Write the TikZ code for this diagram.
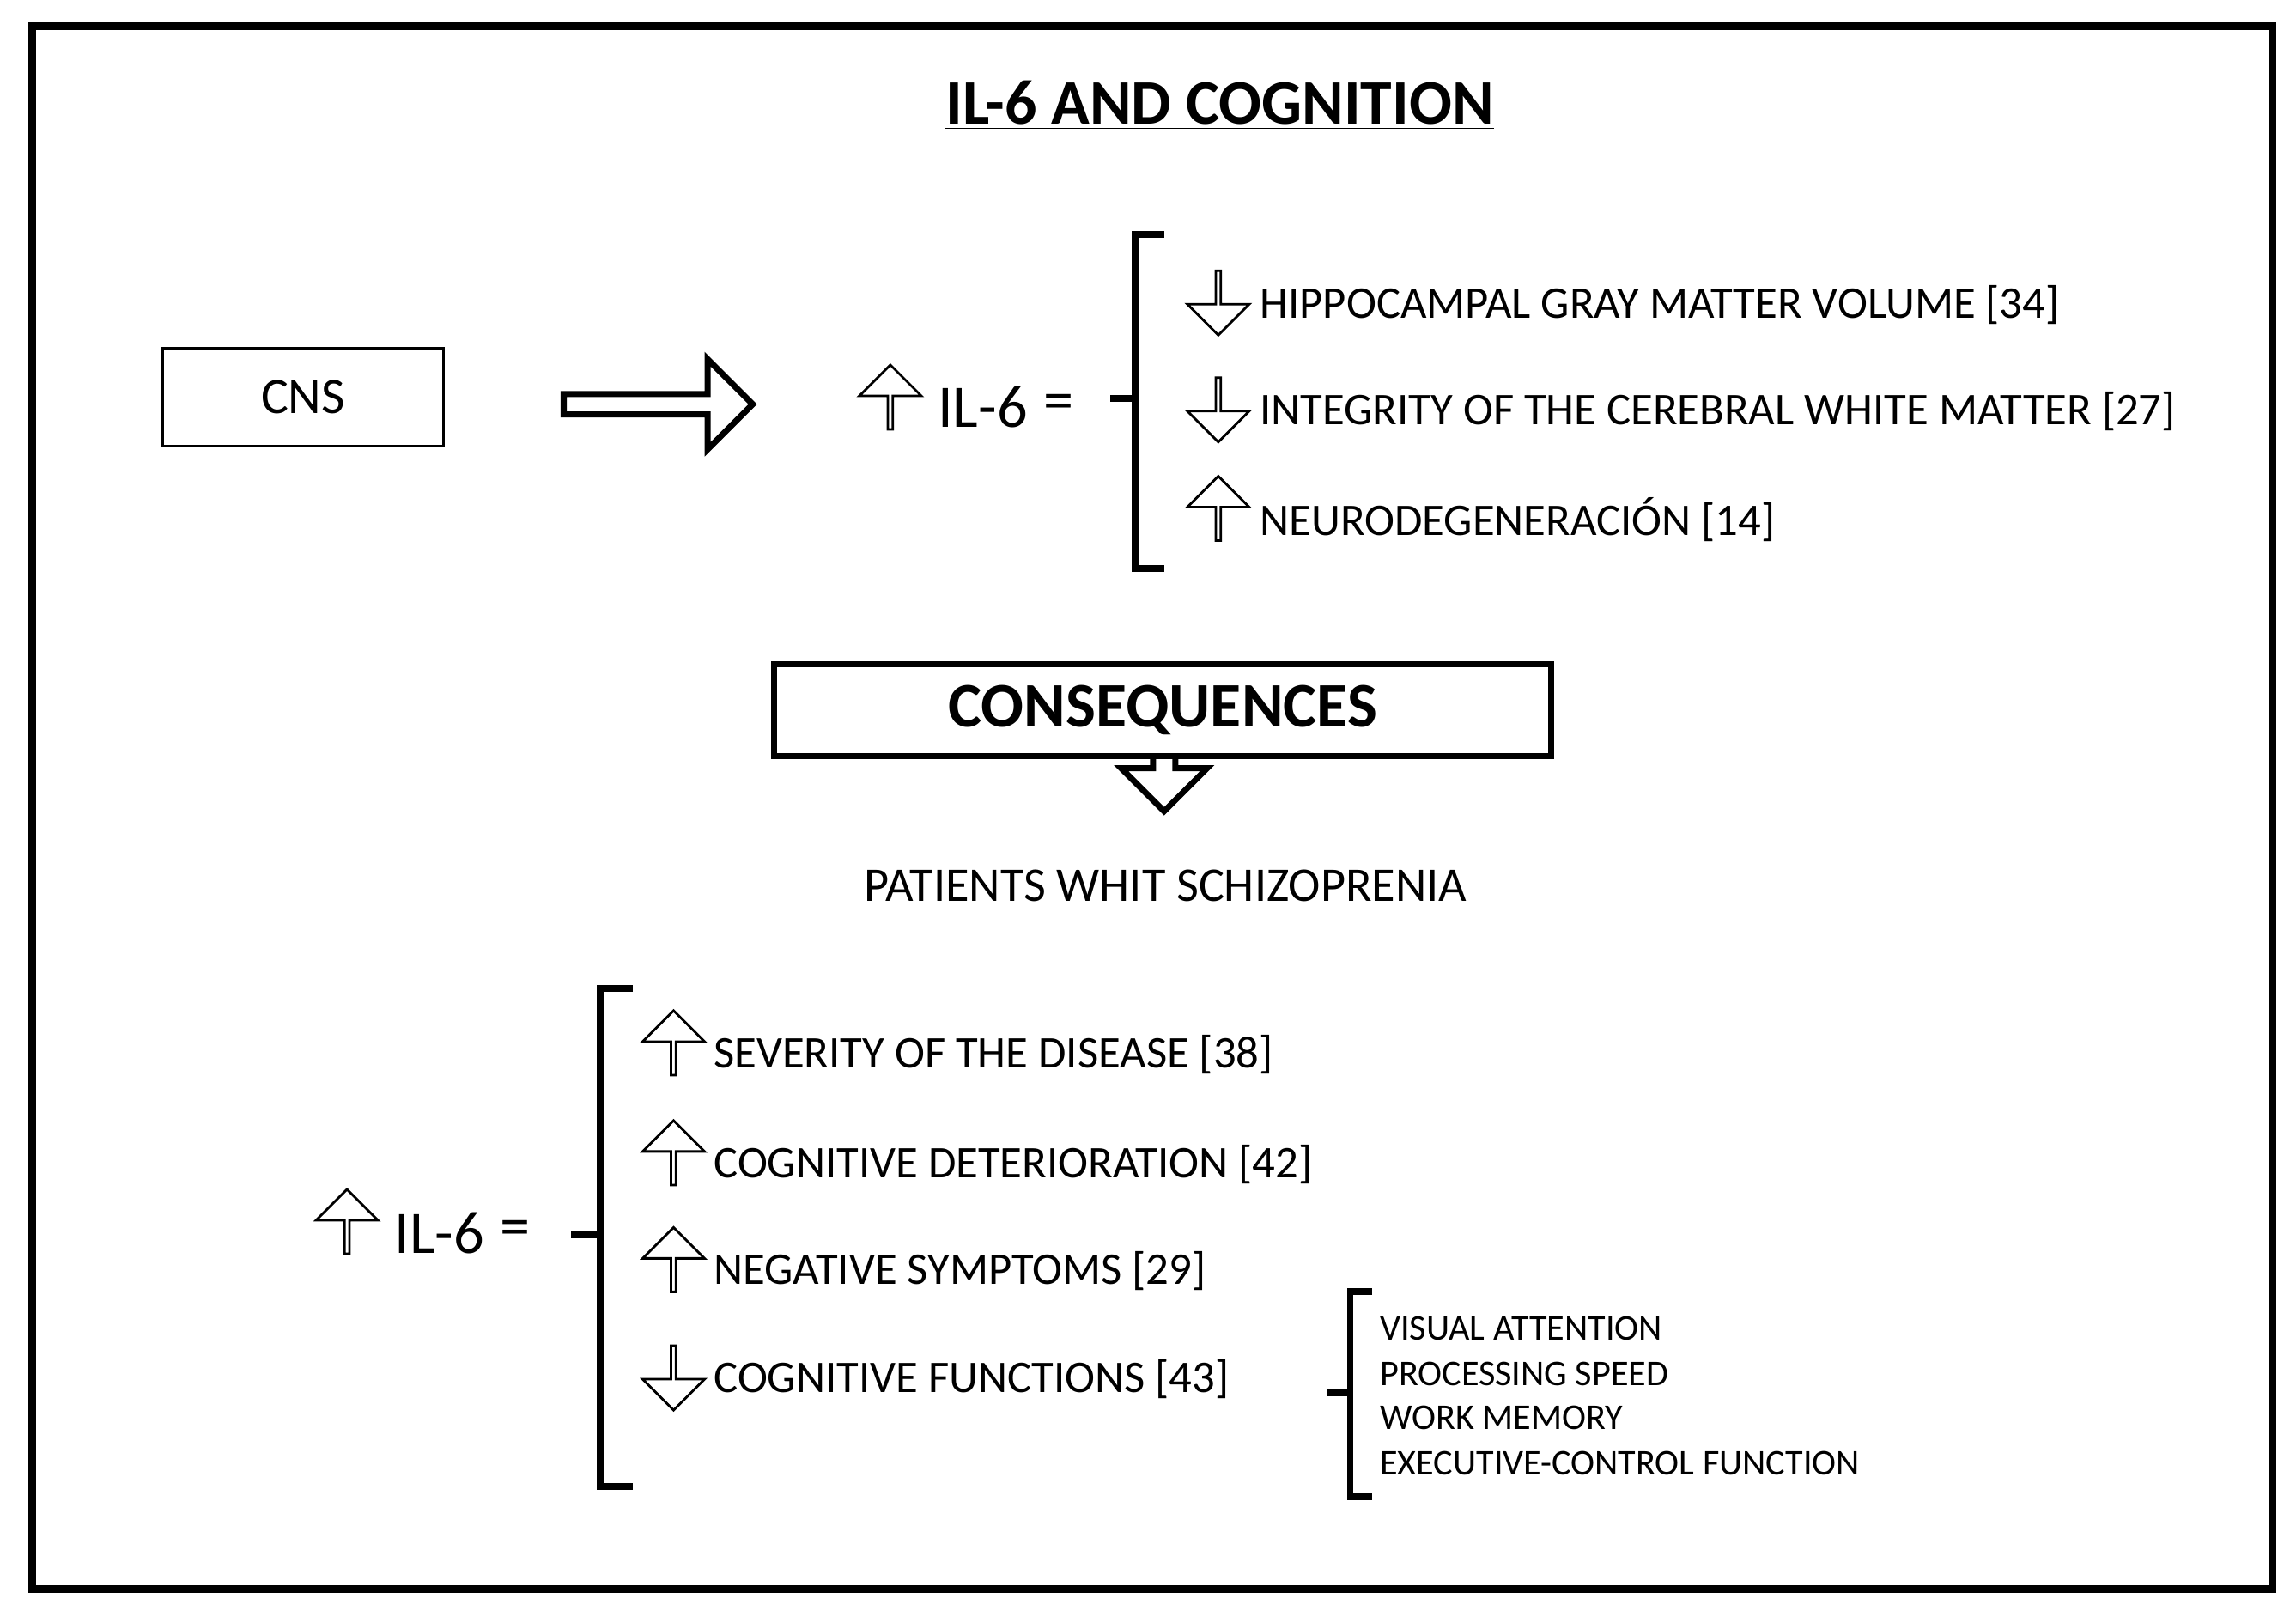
\documentclass[tikz,border=0pt]{standalone}
\usepackage{fontspec}
\setmainfont{Carlito}
\usetikzlibrary{positioning,shapes.arrows}

\begin{document}
\begin{tikzpicture}[
    x=0.01705cm, y=-0.01705cm,
    item/.style={anchor=west, font=\fontsize{15}{18}\selectfont, inner sep=1pt},
    small/.style={anchor=west, font=\fontsize{12}{14}\selectfont, inner sep=1pt},
    upmark/.style={single arrow, draw, line width=0.8pt, rotate=90, minimum height=0.75cm, minimum width=0.72cm, single arrow head extend=0.16cm, inner sep=0pt},
    downmark/.style={upmark, rotate=180},
    bracket/.style={line width=2.2pt},
    il/.style={font=\fontsize{20}{24}\selectfont, inner sep=1pt}
]
\useasboundingbox (0,0) rectangle (1568,1100);
\draw[line width=2.4pt] (22,18) rectangle (1552,1085);

% Title
\node[font=\fontsize{21}{25}\selectfont\bfseries] (title) at (833,72) {\underline{IL-6 AND COGNITION}};

% Upper part
\node[draw, line width=0.8pt, minimum width=3.27cm, minimum height=1.14cm, font=\fontsize{17}{20}\selectfont] (cns) at (207,271) {CNS};
\node[single arrow, draw, line width=2pt, minimum height=2.2cm, minimum width=1.05cm, single arrow head extend=0.12cm, inner sep=0pt] (bigarrow) at (446,276) {};
\node[upmark] (upA) at (608,272) {};
\node[il, anchor=west] (ilA) at (638,278) {IL-6};
\node[il, anchor=west] (eqA) at (710,278) {=};
\draw[bracket] (795,160) -- (775,160) -- (775,388) -- (795,388);
\draw[bracket] (775,272) -- (758,272);

\node[downmark] (dA1) at (832,206) {};
\node[item] (tA1) at (858,208) {HIPPOCAMPAL GRAY MATTER VOLUME [34]};
\node[downmark] (dA2) at (832,279) {};
\node[item] (tA2) at (858,281) {INTEGRITY OF THE CEREBRAL WHITE MATTER [27]};
\node[upmark] (dA3) at (832,348) {};
\node[item] (tA3) at (858,355) {NEURODEGENERACIÓN [14]};

% Consequences
\node[single arrow, draw, line width=2pt, rotate=-90, minimum height=1.3cm, minimum width=1.0cm, single arrow head extend=0.1cm, inner sep=0pt] (chev) at (795,512) {};
\node[draw, fill=white, line width=2pt, minimum width=9.05cm, minimum height=1.07cm, font=\fontsize{21}{25}\selectfont\bfseries] (cons) at (794,485) {CONSEQUENCES};
\node[font=\fontsize{16}{19}\selectfont] (pat) at (796,605) {PATIENTS WHIT SCHIZOPRENIA};

% Lower part
\node[upmark] (upB) at (237,835) {};
\node[il, anchor=west] (ilB) at (267,842) {IL-6};
\node[il, anchor=west] (eqB) at (339,842) {=};
\draw[bracket] (432,675) -- (410,675) -- (410,1015) -- (432,1015);
\draw[bracket] (410,843) -- (390,843);

\node[upmark] (uB1) at (460,713) {};
\node[item] (tB1) at (485,720) {SEVERITY OF THE DISEASE [38]};
\node[upmark] (uB2) at (460,788) {};
\node[item] (tB2) at (485,795) {COGNITIVE DETERIORATION [42]};
\node[upmark] (uB3) at (460,861) {};
\node[item] (tB3) at (485,868) {NEGATIVE SYMPTOMS [29]};
\node[downmark] (uB4) at (460,940) {};
\node[item] (tB4) at (485,942) {COGNITIVE FUNCTIONS [43]};

\draw[bracket] (937,882) -- (922,882) -- (922,1022) -- (937,1022);
\draw[bracket] (922,951) -- (906,951);
\node[small] (f1) at (940,907) {VISUAL ATTENTION};
\node[small] (f2) at (940,938) {PROCESSING SPEED};
\node[small] (f3) at (940,968) {WORK MEMORY};
\node[small] (f4) at (940,999) {EXECUTIVE-CONTROL FUNCTION};
\end{tikzpicture}
\end{document}
